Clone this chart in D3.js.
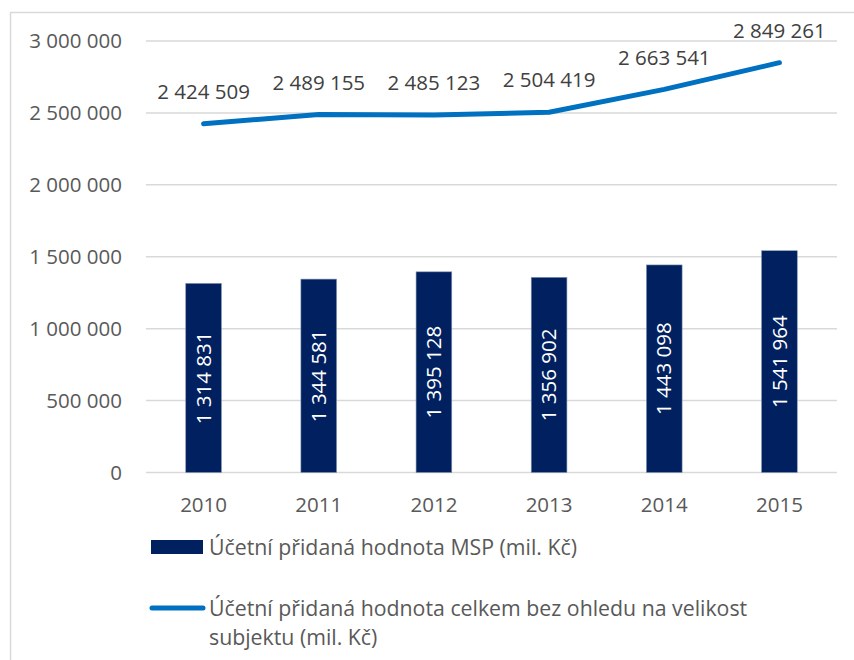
<!DOCTYPE html>
<html>
<head>
<meta charset="utf-8">
<script src="https://cdn.jsdelivr.net/npm/d3@7"></script>
<style>
  body { margin: 0; background: #fff; }
  svg { display: block; font-family: "Open Sans", sans-serif; }
</style>
</head>
<body>
<div class="chart"></div>
<script>
const years = ['2010', '2011', '2012', '2013', '2014', '2015'];
const mspValues = [1314831, 1344581, 1395128, 1356902, 1443098, 1541964];
const totalValues = [2424509, 2489155, 2485123, 2504419, 2663541, 2849261];
const yTicks = [0, 500000, 1000000, 1500000, 2000000, 2500000, 3000000];
const barLabel = 'Účetní přidaná hodnota MSP (mil. Kč)';
const lineLabel = ['Účetní přidaná hodnota celkem bez ohledu na velikost', 'subjektu (mil. Kč)'];

const width = 854;
const height = 660;
const margin = { top: 41, right: 17, bottom: 188, left: 146 };
const numSize = '20.5px';
const legendSize = '21.3px';

const fmt = v => d3.format(',')(v).replace(/,/g, ' ');

const svg = d3
  .select('.chart')
  .append('svg')
  .attr('width', width)
  .attr('height', height);

// outer frame
svg
  .append('rect')
  .attr('x', 10.5)
  .attr('y', 12.5)
  .attr('width', 860)
  .attr('height', 700)
  .attr('fill', 'none')
  .attr('stroke', '#d9d9d9')
  .attr('stroke-width', 1.5);

const xScale = d3
  .scaleBand()
  .domain(years)
  .range([margin.left, width - margin.right])
  .paddingInner(0.69)
  .paddingOuter(0.345);

const yScale = d3
  .scaleLinear()
  .domain([0, 3000000])
  .range([height - margin.bottom + 0.5, margin.top]);

// gridlines
svg
  .append('g')
  .selectAll('line')
  .data(yTicks)
  .join('line')
  .attr('x1', margin.left)
  .attr('x2', width - margin.right)
  .attr('y1', d => yScale(d))
  .attr('y2', d => yScale(d))
  .attr('stroke', '#d9d9d9')
  .attr('stroke-width', 1.5);

const yAxis = d3.axisLeft(yScale)
  .tickValues(yTicks)
  .tickFormat(fmt)
  .tickSize(0)
  .tickPadding(24);

svg
  .append('g')
  .attr('class', 'y-axis')
  .attr('transform', `translate(${margin.left}, 0)`)
  .call(yAxis)
  .call(g => g.select('.domain').remove())
  .selectAll('text')
  .attr('font-family', '"Open Sans", sans-serif')
  .style('font-size', numSize)
  .attr('fill', '#595959');

const xAxis = d3.axisBottom(xScale).tickSize(0).tickPadding(25);

svg
  .append('g')
  .attr('class', 'x-axis')
  .attr('transform', `translate(0, ${height - margin.bottom})`)
  .call(xAxis)
  .call(g => g.select('.domain').remove())
  .selectAll('text')
  .attr('font-family', '"Open Sans", sans-serif')
  .style('font-size', numSize)
  .attr('fill', '#595959');

// bars
svg
  .append('g')
  .selectAll('rect')
  .data(mspValues)
  .join('rect')
  .attr('x', (d, i) => xScale(years[i]))
  .attr('y', d => yScale(d))
  .attr('width', xScale.bandwidth())
  .attr('height', d => yScale(0) - yScale(d))
  .attr('fill', '#002060')
  .attr('stroke', '#8497b0')
  .attr('stroke-width', 0.6);

// bar labels
svg
  .append('g')
  .selectAll('text')
  .data(mspValues)
  .join('text')
  .attr('transform', (d, i) => {
    const cx = xScale(years[i]) + xScale.bandwidth() / 2;
    const cy = (yScale(d) + yScale(0)) / 2;
    return `translate(${cx}, ${cy}) rotate(-90)`;
  })
  .attr('text-anchor', 'middle')
  .attr('dy', '0.35em')
  .style('font-size', numSize)
  .attr('fill', '#ffffff')
  .text(fmt);

// line
const totalLine = d3
  .line()
  .x((d, i) => xScale(years[i]) + xScale.bandwidth() / 2)
  .y(d => yScale(d));

svg
  .append('path')
  .datum(totalValues)
  .attr('fill', 'none')
  .attr('stroke', '#0070c0')
  .attr('stroke-width', 5)
  .attr('stroke-linecap', 'round')
  .attr('stroke-linejoin', 'round')
  .attr('d', totalLine);

svg
  .append('g')
  .selectAll('text')
  .data(totalValues)
  .join('text')
  .attr('x', (d, i) => xScale(years[i]) + xScale.bandwidth() / 2)
  .attr('y', d => yScale(d) - 32)
  .attr('text-anchor', 'middle')
  .attr('dy', '0.35em')
  .style('font-size', numSize)
  .attr('fill', '#404040')
  .text(fmt);

// legend
const legend = svg.append('g').attr('fill', '#595959').style('font-size', legendSize);

legend
  .append('rect')
  .attr('x', 151)
  .attr('y', 540)
  .attr('width', 52)
  .attr('height', 14)
  .attr('fill', '#002060');

legend
  .append('text')
  .attr('x', 209)
  .attr('y', 555)
  .text(barLabel);

legend
  .append('line')
  .attr('x1', 152)
  .attr('x2', 203)
  .attr('y1', 608)
  .attr('y2', 608)
  .attr('stroke', '#0070c0')
  .attr('stroke-width', 5)
  .attr('stroke-linecap', 'round');

legend
  .selectAll('.line-label')
  .data(lineLabel)
  .join('text')
  .attr('class', 'line-label')
  .attr('x', 209)
  .attr('y', (d, i) => 616 + i * 29)
  .text(d => d);
</script>
</body>
</html>
